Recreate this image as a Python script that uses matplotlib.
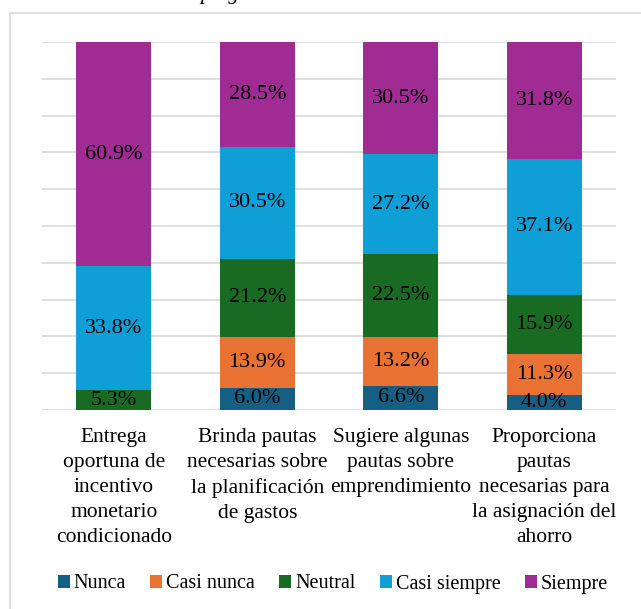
import matplotlib.pyplot as plt
from matplotlib.patches import Rectangle
import numpy as np

plt.rcParams["font.family"] = ["Liberation Serif", "DejaVu Serif"]

categories = [
    "Entrega\noportuna de\nincentivo\nmonetario\ncondicionado",
    "Brinda pautas\nnecesarias sobre\nla planificación\nde gastos",
    "Sugiere algunas\npautas sobre\nemprendimiento",
    "Proporciona\npautas\nnecesarias para\nla asignación del\nahorro",
]
series_names = ["Nunca", "Casi nunca", "Neutral", "Casi siempre", "Siempre"]
nunca = [0.0, 6.0, 6.6, 4.0]
casi_nunca = [0.0, 13.9, 13.2, 11.3]
neutral = [5.3, 21.2, 22.5, 15.9]
casi_siempre = [33.8, 30.5, 27.2, 37.1]
siempre = [60.9, 28.5, 30.5, 31.8]
colors = ["#156082", "#E97132", "#196B24", "#0F9ED5", "#A02B93"]

W, H = 641, 609
fig = plt.figure(figsize=(W / 100, H / 100), dpi=100)
ax = fig.add_axes([42 / W, 1 - 410 / H, (616 - 42) / W, (410 - 42) / H])

# outer chart frame
fig.patches.append(Rectangle((10 / W, -0.1), 1.2, 1 - 13 / H + 0.1,
                             transform=fig.transFigure, fill=False,
                             edgecolor="#D9D9D9", lw=1.2))
fig.text(200 / W, 1 + 1 / H, "programa", style="italic", fontsize=15,
         ha="left", va="baseline")

x = np.arange(len(categories))
bottom = np.zeros(len(categories))
for name, vals, col in zip(series_names,
                           [nunca, casi_nunca, neutral, casi_siempre, siempre],
                           colors):
    v = np.array(vals) / 100
    ax.bar(x, v, 0.52, bottom=bottom, color=col, label=name, zorder=2)
    for xi, b, val in zip(x, bottom, vals):
        if val > 0:
            ax.text(xi, b + val / 200, f"{val:.1f}%", ha="center", va="center",
                    fontsize=16, color="black", zorder=3)
    bottom += v

ax.set_xlim(-0.5, 3.5)
ax.set_ylim(0, 1)
ax.set_yticks(np.arange(0, 1.01, 0.1))
ax.yaxis.grid(True, color="#D9D9D9", lw=1.2, zorder=0)
ax.set_yticklabels([])
ax.tick_params(axis="y", length=0)
for s in ax.spines.values():
    s.set_visible(False)
ax.set_xticks(x)
ax.set_xticklabels(categories, fontsize=15.5, linespacing=1.42)
ax.tick_params(axis="x", length=0, pad=13)

fig.legend(loc="center", bbox_to_anchor=(333 / W, 1 - 584 / H), ncol=5,
           frameon=False, fontsize=14.5, handlelength=0.6, handleheight=0.6,
           handletextpad=0.2, columnspacing=1.2)

fig.savefig("out.png", dpi=100)
